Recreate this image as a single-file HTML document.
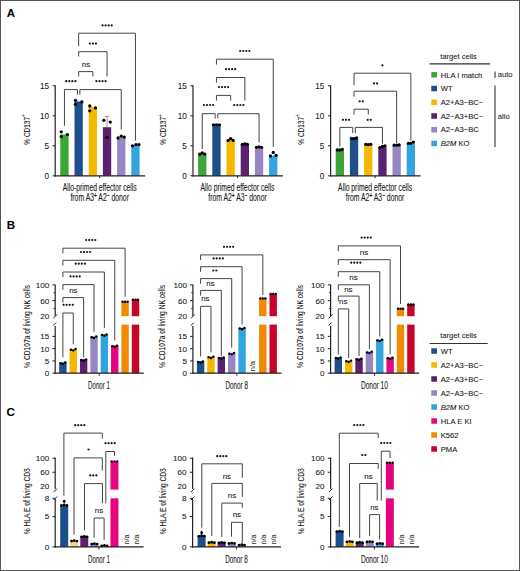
<!DOCTYPE html>
<html><head><meta charset="utf-8"><style>
html,body{margin:0;padding:0;background:#fff;}
body{width:520px;height:571px;overflow:hidden;}
svg{display:block;font-family:"Liberation Sans",sans-serif;}
text{stroke:#1a1a1a;stroke-width:0.08px;}
</style></head><body>
<svg width="520" height="571" viewBox="0 0 520 571">
<rect x="0" y="0" width="520" height="571" fill="#fff"/>
<text x="6.8" y="16.8" font-size="11.5" font-weight="bold" fill="#000">A</text>
<text x="6.8" y="228.9" font-size="11.5" font-weight="bold" fill="#000">B</text>
<text x="6.6" y="416.0" font-size="11.5" font-weight="bold" fill="#000">C</text>
<rect x="60.3" y="134.4" width="8.3" height="41.4" fill="#3ba535"/>
<circle cx="61.25" cy="131.82" r="1.65" fill="#000"/>
<circle cx="67.35" cy="134.58" r="1.65" fill="#000"/>
<circle cx="61.25" cy="136.62" r="1.65" fill="#000"/>
<rect x="74.5" y="101.4" width="8.3" height="74.4" fill="#1d4f8b"/>
<circle cx="75.45" cy="100.32" r="1.65" fill="#000"/>
<circle cx="81.85" cy="101.88" r="1.65" fill="#000"/>
<circle cx="75.45" cy="104.28" r="1.65" fill="#000"/>
<rect x="88.7" y="106.8" width="8.3" height="69" fill="#f6b700"/>
<circle cx="89.75" cy="105.9" r="1.65" fill="#000"/>
<circle cx="95.45" cy="107.88" r="1.65" fill="#000"/>
<circle cx="89.75" cy="110.82" r="1.65" fill="#000"/>
<rect x="102.9" y="127.2" width="8.3" height="48.6" fill="#5b216f"/>
<line x1="107.05" y1="116.4" x2="107.05" y2="127.2" stroke="#777" stroke-width="0.8"/>
<line x1="105.05" y1="116.4" x2="109.05" y2="116.4" stroke="#777" stroke-width="0.8"/>
<circle cx="103.85" cy="120.3" r="1.65" fill="#000"/>
<circle cx="110.25" cy="122.1" r="1.65" fill="#000"/>
<circle cx="107.05" cy="137.4" r="1.65" fill="#000"/>
<rect x="117.1" y="137.4" width="8.3" height="38.4" fill="#9687c4"/>
<circle cx="118.05" cy="138" r="1.65" fill="#000"/>
<circle cx="121.25" cy="136.2" r="1.65" fill="#000"/>
<circle cx="124.25" cy="137.1" r="1.65" fill="#000"/>
<rect x="131.3" y="145.2" width="8.3" height="30.6" fill="#33a5de"/>
<circle cx="132.45" cy="145.8" r="1.65" fill="#000"/>
<circle cx="135.95" cy="144.6" r="1.65" fill="#000"/>
<circle cx="138.95" cy="144.6" r="1.65" fill="#000"/>
<line x1="55.2" y1="85.3" x2="55.2" y2="176.4" stroke="#222" stroke-width="1.2"/>
<line x1="52.6" y1="175.8" x2="55.2" y2="175.8" stroke="#222" stroke-width="1.0"/>
<text x="49" y="178.7" font-size="8.2" text-anchor="end" fill="#1a1a1a" >0</text>
<line x1="52.6" y1="145.8" x2="55.2" y2="145.8" stroke="#222" stroke-width="1.0"/>
<text x="49" y="148.7" font-size="8.2" text-anchor="end" fill="#1a1a1a" >5</text>
<line x1="52.6" y1="115.8" x2="55.2" y2="115.8" stroke="#222" stroke-width="1.0"/>
<text x="49" y="118.7" font-size="8.2" text-anchor="end" fill="#1a1a1a" >10</text>
<line x1="52.6" y1="85.8" x2="55.2" y2="85.8" stroke="#222" stroke-width="1.0"/>
<text x="49" y="88.7" font-size="8.2" text-anchor="end" fill="#1a1a1a" >15</text>
<line x1="54.6" y1="175.8" x2="145.2" y2="175.8" stroke="#222" stroke-width="1.2"/>
<line x1="99.7" y1="175.8" x2="99.7" y2="178.1" stroke="#222" stroke-width="1.0"/>
<text transform="translate(30,129.4) rotate(-90)" font-size="9.4" text-anchor="middle" fill="#111" stroke="#111" stroke-width="0.3" textLength="30.5" lengthAdjust="spacingAndGlyphs">% CD137<tspan font-size="7" dy="-3.6">+</tspan></text>
<text x="99.7" y="190.9" font-size="10" text-anchor="middle" fill="#111" stroke="#111" stroke-width="0.3" textLength="74" lengthAdjust="spacingAndGlyphs">Allo-primed effector cells</text>
<text x="99.7" y="201.3" font-size="10" text-anchor="middle" fill="#111" stroke="#111" stroke-width="0.3" textLength="58.5" lengthAdjust="spacingAndGlyphs">from A3<tspan font-size="7" dy="-3.4" font-weight="bold">+</tspan><tspan dy="3.4"> A2</tspan><tspan font-size="7" dy="-3.4" font-weight="bold">−</tspan><tspan dy="3.4"> donor</tspan></text>
<rect x="198.1" y="154.8" width="8.3" height="21" fill="#3ba535"/>
<circle cx="199.75" cy="154.2" r="1.65" fill="#000"/>
<circle cx="202.25" cy="153" r="1.65" fill="#000"/>
<circle cx="204.75" cy="154.2" r="1.65" fill="#000"/>
<rect x="212.3" y="126" width="8.3" height="49.8" fill="#1d4f8b"/>
<circle cx="213.45" cy="124.8" r="1.65" fill="#000"/>
<circle cx="216.45" cy="124.8" r="1.65" fill="#000"/>
<circle cx="219.45" cy="124.8" r="1.65" fill="#000"/>
<rect x="226.5" y="140.4" width="8.3" height="35.4" fill="#f6b700"/>
<circle cx="228.15" cy="140.4" r="1.65" fill="#000"/>
<circle cx="230.65" cy="138.6" r="1.65" fill="#000"/>
<circle cx="233.15" cy="140.4" r="1.65" fill="#000"/>
<rect x="240.7" y="144.6" width="8.3" height="31.2" fill="#5b216f"/>
<circle cx="242.35" cy="144.3" r="1.65" fill="#000"/>
<circle cx="244.85" cy="144" r="1.65" fill="#000"/>
<circle cx="247.35" cy="144.3" r="1.65" fill="#000"/>
<rect x="254.9" y="148.2" width="8.3" height="27.6" fill="#9687c4"/>
<circle cx="256.55" cy="147.3" r="1.65" fill="#000"/>
<circle cx="259.05" cy="147" r="1.65" fill="#000"/>
<circle cx="261.55" cy="147.3" r="1.65" fill="#000"/>
<rect x="269.1" y="155.7" width="8.3" height="20.1" fill="#33a5de"/>
<circle cx="270.45" cy="156" r="1.65" fill="#000"/>
<circle cx="273.25" cy="152.4" r="1.65" fill="#000"/>
<circle cx="276.05" cy="155.4" r="1.65" fill="#000"/>
<line x1="193" y1="85.3" x2="193" y2="176.4" stroke="#222" stroke-width="1.2"/>
<line x1="190.4" y1="175.8" x2="193" y2="175.8" stroke="#222" stroke-width="1.0"/>
<text x="186.8" y="178.7" font-size="8.2" text-anchor="end" fill="#1a1a1a" >0</text>
<line x1="190.4" y1="145.8" x2="193" y2="145.8" stroke="#222" stroke-width="1.0"/>
<text x="186.8" y="148.7" font-size="8.2" text-anchor="end" fill="#1a1a1a" >5</text>
<line x1="190.4" y1="115.8" x2="193" y2="115.8" stroke="#222" stroke-width="1.0"/>
<text x="186.8" y="118.7" font-size="8.2" text-anchor="end" fill="#1a1a1a" >10</text>
<line x1="190.4" y1="85.8" x2="193" y2="85.8" stroke="#222" stroke-width="1.0"/>
<text x="186.8" y="88.7" font-size="8.2" text-anchor="end" fill="#1a1a1a" >15</text>
<line x1="192.4" y1="175.8" x2="283" y2="175.8" stroke="#222" stroke-width="1.2"/>
<line x1="237.5" y1="175.8" x2="237.5" y2="178.1" stroke="#222" stroke-width="1.0"/>
<text transform="translate(166.4,129.4) rotate(-90)" font-size="9.4" text-anchor="middle" fill="#111" stroke="#111" stroke-width="0.3" textLength="30.5" lengthAdjust="spacingAndGlyphs">% CD137<tspan font-size="7" dy="-3.6">+</tspan></text>
<text x="237.5" y="190.9" font-size="10" text-anchor="middle" fill="#111" stroke="#111" stroke-width="0.3" textLength="74" lengthAdjust="spacingAndGlyphs">Allo primed effector cells</text>
<text x="237.5" y="201.3" font-size="10" text-anchor="middle" fill="#111" stroke="#111" stroke-width="0.3" textLength="58.5" lengthAdjust="spacingAndGlyphs">from A2<tspan font-size="7" dy="-3.4" font-weight="bold">+</tspan><tspan dy="3.4"> A3</tspan><tspan font-size="7" dy="-3.4" font-weight="bold">−</tspan><tspan dy="3.4"> donor</tspan></text>
<rect x="335.7" y="150.3" width="8.3" height="25.5" fill="#3ba535"/>
<circle cx="337.35" cy="150" r="1.65" fill="#000"/>
<circle cx="342.35" cy="149.4" r="1.65" fill="#000"/>
<circle cx="339.85" cy="150" r="1.65" fill="#000"/>
<rect x="349.9" y="138.9" width="8.3" height="36.9" fill="#1d4f8b"/>
<circle cx="351.55" cy="138.3" r="1.65" fill="#000"/>
<circle cx="356.55" cy="138" r="1.65" fill="#000"/>
<circle cx="354.05" cy="138.6" r="1.65" fill="#000"/>
<rect x="364.1" y="144.9" width="8.3" height="30.9" fill="#f6b700"/>
<circle cx="365.75" cy="144.3" r="1.65" fill="#000"/>
<circle cx="370.75" cy="144.3" r="1.65" fill="#000"/>
<circle cx="368.25" cy="144.6" r="1.65" fill="#000"/>
<rect x="378.3" y="147" width="8.3" height="28.8" fill="#5b216f"/>
<circle cx="379.95" cy="147.6" r="1.65" fill="#000"/>
<circle cx="384.95" cy="145.8" r="1.65" fill="#000"/>
<circle cx="382.45" cy="146.4" r="1.65" fill="#000"/>
<rect x="392.5" y="145.5" width="8.3" height="30.3" fill="#9687c4"/>
<circle cx="394.15" cy="145.2" r="1.65" fill="#000"/>
<circle cx="399.15" cy="144.9" r="1.65" fill="#000"/>
<circle cx="396.65" cy="145.2" r="1.65" fill="#000"/>
<rect x="406.7" y="143.7" width="8.3" height="32.1" fill="#33a5de"/>
<circle cx="408.35" cy="143.4" r="1.65" fill="#000"/>
<circle cx="413.35" cy="142.2" r="1.65" fill="#000"/>
<circle cx="410.85" cy="143.4" r="1.65" fill="#000"/>
<line x1="330.6" y1="85.3" x2="330.6" y2="176.4" stroke="#222" stroke-width="1.2"/>
<line x1="328" y1="175.8" x2="330.6" y2="175.8" stroke="#222" stroke-width="1.0"/>
<text x="324.4" y="178.7" font-size="8.2" text-anchor="end" fill="#1a1a1a" >0</text>
<line x1="328" y1="145.8" x2="330.6" y2="145.8" stroke="#222" stroke-width="1.0"/>
<text x="324.4" y="148.7" font-size="8.2" text-anchor="end" fill="#1a1a1a" >5</text>
<line x1="328" y1="115.8" x2="330.6" y2="115.8" stroke="#222" stroke-width="1.0"/>
<text x="324.4" y="118.7" font-size="8.2" text-anchor="end" fill="#1a1a1a" >10</text>
<line x1="328" y1="85.8" x2="330.6" y2="85.8" stroke="#222" stroke-width="1.0"/>
<text x="324.4" y="88.7" font-size="8.2" text-anchor="end" fill="#1a1a1a" >15</text>
<line x1="330" y1="175.8" x2="420.6" y2="175.8" stroke="#222" stroke-width="1.2"/>
<line x1="375.1" y1="175.8" x2="375.1" y2="178.1" stroke="#222" stroke-width="1.0"/>
<text transform="translate(303.8,129.4) rotate(-90)" font-size="9.4" text-anchor="middle" fill="#111" stroke="#111" stroke-width="0.3" textLength="30.5" lengthAdjust="spacingAndGlyphs">% CD137<tspan font-size="7" dy="-3.6">+</tspan></text>
<text x="375.1" y="190.9" font-size="10" text-anchor="middle" fill="#111" stroke="#111" stroke-width="0.3" textLength="74" lengthAdjust="spacingAndGlyphs">Allo primed effector cells</text>
<text x="375.1" y="201.3" font-size="10" text-anchor="middle" fill="#111" stroke="#111" stroke-width="0.3" textLength="58.5" lengthAdjust="spacingAndGlyphs">from A2<tspan font-size="7" dy="-3.4" font-weight="bold">+</tspan><tspan dy="3.4"> A3</tspan><tspan font-size="7" dy="-3.4" font-weight="bold">−</tspan><tspan dy="3.4"> donor</tspan></text>
<polyline points="64.45,125.8 64.45,89.6 77.45,89.6 77.45,94.7" fill="none" stroke="#454545" stroke-width="1.0"/>
<polyline points="79.85,94.7 79.85,89.6 121.25,89.6 121.25,129.5" fill="none" stroke="#454545" stroke-width="1.0"/>
<circle cx="66.22" cy="81.2" r="1.1" fill="#151515"/>
<circle cx="69.27" cy="81.2" r="1.1" fill="#151515"/>
<circle cx="72.32" cy="81.2" r="1.1" fill="#151515"/>
<circle cx="75.38" cy="81.2" r="1.1" fill="#151515"/>
<circle cx="96.42" cy="81.2" r="1.1" fill="#151515"/>
<circle cx="99.47" cy="81.2" r="1.1" fill="#151515"/>
<circle cx="102.52" cy="81.2" r="1.1" fill="#151515"/>
<circle cx="105.57" cy="81.2" r="1.1" fill="#151515"/>
<polyline points="78.65,76.4 78.65,71.6 92.85,71.6 92.85,76.4" fill="none" stroke="#454545" stroke-width="1.0"/>
<text x="86" y="66.68" font-size="8" text-anchor="middle" fill="#222" stroke="#222" stroke-width="0.25">ns</text>
<polyline points="78.65,56.5 78.65,51.7 107.05,51.7 107.05,76.4" fill="none" stroke="#454545" stroke-width="1.0"/>
<circle cx="89.85" cy="43.6" r="1.1" fill="#151515"/>
<circle cx="92.9" cy="43.6" r="1.1" fill="#151515"/>
<circle cx="95.95" cy="43.6" r="1.1" fill="#151515"/>
<polyline points="78.65,46.2 78.65,33.2 135.45,33.2 135.45,140.5" fill="none" stroke="#454545" stroke-width="1.0"/>
<circle cx="102.52" cy="25.4" r="1.1" fill="#151515"/>
<circle cx="105.57" cy="25.4" r="1.1" fill="#151515"/>
<circle cx="108.62" cy="25.4" r="1.1" fill="#151515"/>
<circle cx="111.67" cy="25.4" r="1.1" fill="#151515"/>
<polyline points="202.25,149.2 202.25,113.7 215.15,113.7 215.15,118.5" fill="none" stroke="#454545" stroke-width="1.0"/>
<polyline points="217.75,118.5 217.75,113.7 259.05,113.7 259.05,142.5" fill="none" stroke="#454545" stroke-width="1.0"/>
<circle cx="203.93" cy="105" r="1.1" fill="#151515"/>
<circle cx="206.98" cy="105" r="1.1" fill="#151515"/>
<circle cx="210.03" cy="105" r="1.1" fill="#151515"/>
<circle cx="213.08" cy="105" r="1.1" fill="#151515"/>
<circle cx="234.23" cy="105" r="1.1" fill="#151515"/>
<circle cx="237.28" cy="105" r="1.1" fill="#151515"/>
<circle cx="240.33" cy="105" r="1.1" fill="#151515"/>
<circle cx="243.38" cy="105" r="1.1" fill="#151515"/>
<polyline points="216.45,100.6 216.45,95.4 230.65,95.4 230.65,100.6" fill="none" stroke="#454545" stroke-width="1.0"/>
<circle cx="218.93" cy="87.1" r="1.1" fill="#151515"/>
<circle cx="221.98" cy="87.1" r="1.1" fill="#151515"/>
<circle cx="225.03" cy="87.1" r="1.1" fill="#151515"/>
<circle cx="228.08" cy="87.1" r="1.1" fill="#151515"/>
<polyline points="216.45,82.7 216.45,77.5 244.85,77.5 244.85,100.6" fill="none" stroke="#454545" stroke-width="1.0"/>
<circle cx="226.03" cy="69.2" r="1.1" fill="#151515"/>
<circle cx="229.08" cy="69.2" r="1.1" fill="#151515"/>
<circle cx="232.12" cy="69.2" r="1.1" fill="#151515"/>
<circle cx="235.18" cy="69.2" r="1.1" fill="#151515"/>
<polyline points="216.45,64.6 216.45,59.2 273.25,59.2 273.25,146.9" fill="none" stroke="#454545" stroke-width="1.0"/>
<circle cx="240.23" cy="51" r="1.1" fill="#151515"/>
<circle cx="243.28" cy="51" r="1.1" fill="#151515"/>
<circle cx="246.33" cy="51" r="1.1" fill="#151515"/>
<circle cx="249.38" cy="51" r="1.1" fill="#151515"/>
<polyline points="339.85,146.5 339.85,127.4 352.75,127.4 352.75,133.1" fill="none" stroke="#454545" stroke-width="1.0"/>
<polyline points="355.35,133.1 355.35,127.4 382.45,127.4 382.45,143.7" fill="none" stroke="#454545" stroke-width="1.0"/>
<circle cx="342.95" cy="119.8" r="1.1" fill="#151515"/>
<circle cx="346" cy="119.8" r="1.1" fill="#151515"/>
<circle cx="349.05" cy="119.8" r="1.1" fill="#151515"/>
<circle cx="367.68" cy="119.8" r="1.1" fill="#151515"/>
<circle cx="370.73" cy="119.8" r="1.1" fill="#151515"/>
<polyline points="354.05,114.5 354.05,109.2 368.25,109.2 368.25,114.5" fill="none" stroke="#454545" stroke-width="1.0"/>
<circle cx="359.68" cy="101.3" r="1.1" fill="#151515"/>
<circle cx="362.73" cy="101.3" r="1.1" fill="#151515"/>
<polyline points="354.05,96.7 354.05,91.2 396.65,91.2 396.65,143" fill="none" stroke="#454545" stroke-width="1.0"/>
<circle cx="374.08" cy="83.4" r="1.1" fill="#151515"/>
<circle cx="377.13" cy="83.4" r="1.1" fill="#151515"/>
<polyline points="354.05,85.5 354.05,73.2 410.85,73.2 410.85,140.5" fill="none" stroke="#454545" stroke-width="1.0"/>
<circle cx="382.4" cy="65.4" r="1.1" fill="#151515"/>
<text x="458.5" y="59.2" font-size="7.6" text-anchor="middle" fill="#222" >target cells</text>
<line x1="429.6" y1="63.8" x2="490.2" y2="63.8" stroke="#333" stroke-width="1.2"/>
<rect x="431.3" y="72.05" width="5.7" height="5.5" fill="#3ba535"/>
<text x="440.8" y="77.5" font-size="7.6" fill="#1a1a1a" style="stroke-width:0.1px">HLA I match</text>
<rect x="431.3" y="85.78" width="5.7" height="5.5" fill="#1d4f8b"/>
<text x="440.8" y="91.23" font-size="7.6" fill="#1a1a1a" style="stroke-width:0.1px">WT</text>
<rect x="431.3" y="99.51" width="5.7" height="5.5" fill="#f6b700"/>
<text x="440.8" y="104.96" font-size="7.6" fill="#1a1a1a" style="stroke-width:0.1px">A2+A3−BC−</text>
<rect x="431.3" y="113.24" width="5.7" height="5.5" fill="#5b216f"/>
<text x="440.8" y="118.69" font-size="7.6" fill="#1a1a1a" style="stroke-width:0.1px">A2−A3+BC−</text>
<rect x="431.3" y="126.97" width="5.7" height="5.5" fill="#9687c4"/>
<text x="440.8" y="132.42" font-size="7.6" fill="#1a1a1a" style="stroke-width:0.1px">A2−A3−BC</text>
<rect x="431.3" y="140.7" width="5.7" height="5.5" fill="#33a5de"/>
<text x="440.8" y="146.15" font-size="7.6" fill="#1a1a1a" style="stroke-width:0.1px"><tspan font-style="italic">B2M</tspan> KO</text>
<line x1="495" y1="71.6" x2="495" y2="77.8" stroke="#333" stroke-width="1.1"/>
<text x="497.8" y="77.4" font-size="7.6" fill="#222">auto</text>
<line x1="495" y1="85.4" x2="495" y2="147" stroke="#333" stroke-width="1.1"/>
<text x="497.8" y="118.9" font-size="7.6" fill="#222">allo</text>
<rect x="59.2" y="362.41" width="7.4" height="10.79" fill="#1d4f8b"/>
<circle cx="60.6" cy="363.21" r="1.25" fill="#000"/>
<circle cx="65.2" cy="362.61" r="1.25" fill="#000"/>
<circle cx="62.9" cy="363.91" r="1.2" fill="#000"/>
<rect x="69.57" y="348.92" width="7.4" height="24.28" fill="#f6b700"/>
<circle cx="70.97" cy="349.72" r="1.25" fill="#000"/>
<circle cx="75.57" cy="349.12" r="1.25" fill="#000"/>
<circle cx="73.27" cy="350.42" r="1.2" fill="#000"/>
<rect x="79.94" y="359.22" width="7.4" height="13.98" fill="#5b216f"/>
<circle cx="81.34" cy="360.02" r="1.25" fill="#000"/>
<circle cx="85.94" cy="359.42" r="1.25" fill="#000"/>
<circle cx="83.64" cy="360.72" r="1.2" fill="#000"/>
<rect x="90.31" y="336.4" width="7.4" height="36.8" fill="#9687c4"/>
<circle cx="91.71" cy="337.2" r="1.25" fill="#000"/>
<circle cx="96.31" cy="336.6" r="1.25" fill="#000"/>
<circle cx="94.01" cy="337.9" r="1.2" fill="#000"/>
<rect x="100.68" y="334.2" width="7.4" height="39" fill="#33a5de"/>
<circle cx="102.08" cy="335" r="1.25" fill="#000"/>
<circle cx="106.68" cy="334.4" r="1.25" fill="#000"/>
<circle cx="104.38" cy="335.7" r="1.2" fill="#000"/>
<rect x="111.05" y="345.48" width="7.4" height="27.72" fill="#e5067f"/>
<circle cx="112.45" cy="346.28" r="1.25" fill="#000"/>
<circle cx="117.05" cy="345.68" r="1.25" fill="#000"/>
<circle cx="114.75" cy="346.98" r="1.2" fill="#000"/>
<rect x="121.42" y="301.43" width="7.4" height="14.77" fill="#f18a00"/>
<rect x="121.42" y="324.6" width="7.4" height="48.6" fill="#f18a00"/>
<circle cx="122.62" cy="301.73" r="1.2" fill="#000"/>
<circle cx="125.12" cy="301.73" r="1.2" fill="#000"/>
<circle cx="127.62" cy="301.73" r="1.2" fill="#000"/>
<rect x="131.79" y="299.46" width="7.4" height="16.74" fill="#c8032b"/>
<rect x="131.79" y="324.6" width="7.4" height="48.6" fill="#c8032b"/>
<circle cx="132.99" cy="299.76" r="1.2" fill="#000"/>
<circle cx="135.49" cy="299.76" r="1.2" fill="#000"/>
<circle cx="137.99" cy="299.76" r="1.2" fill="#000"/>
<line x1="55.2" y1="373.8" x2="55.2" y2="325.9" stroke="#222" stroke-width="1.2"/>
<line x1="53.2" y1="325.6" x2="56.1" y2="322.6" stroke="#222" stroke-width="1.0"/>
<line x1="52.4" y1="373.2" x2="55.2" y2="373.2" stroke="#222" stroke-width="1.0"/>
<text x="49.2" y="376.1" font-size="8.1" text-anchor="end" fill="#1a1a1a" >0</text>
<line x1="52.4" y1="360.94" x2="55.2" y2="360.94" stroke="#222" stroke-width="1.0"/>
<text x="49.2" y="363.83" font-size="8.1" text-anchor="end" fill="#1a1a1a" >5</text>
<line x1="52.4" y1="348.67" x2="55.2" y2="348.67" stroke="#222" stroke-width="1.0"/>
<text x="49.2" y="351.57" font-size="8.1" text-anchor="end" fill="#1a1a1a" >10</text>
<line x1="52.4" y1="336.4" x2="55.2" y2="336.4" stroke="#222" stroke-width="1.0"/>
<text x="49.2" y="339.3" font-size="8.1" text-anchor="end" fill="#1a1a1a" >15</text>
<line x1="55.2" y1="284.4" x2="55.2" y2="316" stroke="#222" stroke-width="1.2"/>
<line x1="53.3" y1="318.3" x2="57.1" y2="314.4" stroke="#222" stroke-width="1.0"/>
<text x="49.2" y="319.3" font-size="8.1" text-anchor="end" fill="#1a1a1a" >20</text>
<line x1="52.4" y1="300.64" x2="55.2" y2="300.64" stroke="#222" stroke-width="1.0"/>
<text x="49.2" y="303.54" font-size="8.1" text-anchor="end" fill="#1a1a1a" >60</text>
<line x1="52.4" y1="284.88" x2="55.2" y2="284.88" stroke="#222" stroke-width="1.0"/>
<text x="49.2" y="287.78" font-size="8.1" text-anchor="end" fill="#1a1a1a" >100</text>
<line x1="53.6" y1="308.52" x2="55.2" y2="308.52" stroke="#222" stroke-width="1.0"/>
<line x1="53.6" y1="292.76" x2="55.2" y2="292.76" stroke="#222" stroke-width="1.0"/>
<line x1="54.6" y1="373.2" x2="143.8" y2="373.2" stroke="#222" stroke-width="1.2"/>
<line x1="99.2" y1="373.2" x2="99.2" y2="375.8" stroke="#222" stroke-width="1.0"/>
<text transform="translate(29.9,326.4) rotate(-90)" font-size="9.6" text-anchor="middle" fill="#111" stroke="#111" stroke-width="0.3" textLength="83" lengthAdjust="spacingAndGlyphs">% CD107a of living NK cells</text>
<text x="99" y="389.1" font-size="10" text-anchor="middle" fill="#111" stroke="#111" stroke-width="0.35" textLength="22" lengthAdjust="spacingAndGlyphs">Donor 1</text>
<rect x="196.9" y="361.18" width="7.4" height="12.02" fill="#1d4f8b"/>
<circle cx="198.3" cy="361.98" r="1.25" fill="#000"/>
<circle cx="202.9" cy="361.38" r="1.25" fill="#000"/>
<circle cx="200.6" cy="362.68" r="1.2" fill="#000"/>
<rect x="207.27" y="356.52" width="7.4" height="16.68" fill="#f6b700"/>
<circle cx="208.67" cy="357.32" r="1.25" fill="#000"/>
<circle cx="213.27" cy="356.72" r="1.25" fill="#000"/>
<circle cx="210.97" cy="358.02" r="1.2" fill="#000"/>
<rect x="217.64" y="357.26" width="7.4" height="15.94" fill="#5b216f"/>
<circle cx="219.04" cy="358.06" r="1.25" fill="#000"/>
<circle cx="223.64" cy="357.46" r="1.25" fill="#000"/>
<circle cx="221.34" cy="358.76" r="1.2" fill="#000"/>
<rect x="228.01" y="352.84" width="7.4" height="20.36" fill="#9687c4"/>
<circle cx="229.41" cy="353.64" r="1.25" fill="#000"/>
<circle cx="234.01" cy="353.04" r="1.25" fill="#000"/>
<circle cx="231.71" cy="354.34" r="1.2" fill="#000"/>
<rect x="238.38" y="327.82" width="7.4" height="45.38" fill="#33a5de"/>
<circle cx="239.78" cy="328.62" r="1.25" fill="#000"/>
<circle cx="244.38" cy="328.02" r="1.25" fill="#000"/>
<circle cx="242.08" cy="329.32" r="1.2" fill="#000"/>
<text transform="translate(254.85,371.2) rotate(-90)" font-size="7.4" fill="#444">n/a</text>
<rect x="259.12" y="298.08" width="7.4" height="18.12" fill="#f18a00"/>
<rect x="259.12" y="324.6" width="7.4" height="48.6" fill="#f18a00"/>
<circle cx="260.32" cy="298.38" r="1.2" fill="#000"/>
<circle cx="262.82" cy="298.38" r="1.2" fill="#000"/>
<circle cx="265.32" cy="298.38" r="1.2" fill="#000"/>
<rect x="269.49" y="293.71" width="7.4" height="22.49" fill="#c8032b"/>
<rect x="269.49" y="324.6" width="7.4" height="48.6" fill="#c8032b"/>
<circle cx="270.69" cy="294.01" r="1.2" fill="#000"/>
<circle cx="273.19" cy="294.01" r="1.2" fill="#000"/>
<circle cx="275.69" cy="294.01" r="1.2" fill="#000"/>
<line x1="192.9" y1="373.8" x2="192.9" y2="325.9" stroke="#222" stroke-width="1.2"/>
<line x1="190.9" y1="325.6" x2="193.8" y2="322.6" stroke="#222" stroke-width="1.0"/>
<line x1="190.1" y1="373.2" x2="192.9" y2="373.2" stroke="#222" stroke-width="1.0"/>
<text x="186.9" y="376.1" font-size="8.1" text-anchor="end" fill="#1a1a1a" >0</text>
<line x1="190.1" y1="360.94" x2="192.9" y2="360.94" stroke="#222" stroke-width="1.0"/>
<text x="186.9" y="363.83" font-size="8.1" text-anchor="end" fill="#1a1a1a" >5</text>
<line x1="190.1" y1="348.67" x2="192.9" y2="348.67" stroke="#222" stroke-width="1.0"/>
<text x="186.9" y="351.57" font-size="8.1" text-anchor="end" fill="#1a1a1a" >10</text>
<line x1="190.1" y1="336.4" x2="192.9" y2="336.4" stroke="#222" stroke-width="1.0"/>
<text x="186.9" y="339.3" font-size="8.1" text-anchor="end" fill="#1a1a1a" >15</text>
<line x1="192.9" y1="284.4" x2="192.9" y2="316" stroke="#222" stroke-width="1.2"/>
<line x1="191" y1="318.3" x2="194.8" y2="314.4" stroke="#222" stroke-width="1.0"/>
<text x="186.9" y="319.3" font-size="8.1" text-anchor="end" fill="#1a1a1a" >20</text>
<line x1="190.1" y1="300.64" x2="192.9" y2="300.64" stroke="#222" stroke-width="1.0"/>
<text x="186.9" y="303.54" font-size="8.1" text-anchor="end" fill="#1a1a1a" >60</text>
<line x1="190.1" y1="284.88" x2="192.9" y2="284.88" stroke="#222" stroke-width="1.0"/>
<text x="186.9" y="287.78" font-size="8.1" text-anchor="end" fill="#1a1a1a" >100</text>
<line x1="191.3" y1="308.52" x2="192.9" y2="308.52" stroke="#222" stroke-width="1.0"/>
<line x1="191.3" y1="292.76" x2="192.9" y2="292.76" stroke="#222" stroke-width="1.0"/>
<line x1="192.3" y1="373.2" x2="281.5" y2="373.2" stroke="#222" stroke-width="1.2"/>
<line x1="236.9" y1="373.2" x2="236.9" y2="375.8" stroke="#222" stroke-width="1.0"/>
<text transform="translate(165.2,326.4) rotate(-90)" font-size="9.6" text-anchor="middle" fill="#111" stroke="#111" stroke-width="0.3" textLength="83" lengthAdjust="spacingAndGlyphs">% CD107a of living NK cells</text>
<text x="236.7" y="389.1" font-size="10" text-anchor="middle" fill="#111" stroke="#111" stroke-width="0.35" textLength="22.5" lengthAdjust="spacingAndGlyphs">Donor 8</text>
<rect x="334.6" y="357.26" width="7.4" height="15.94" fill="#1d4f8b"/>
<circle cx="336" cy="358.06" r="1.25" fill="#000"/>
<circle cx="340.6" cy="357.46" r="1.25" fill="#000"/>
<circle cx="338.3" cy="358.76" r="1.2" fill="#000"/>
<rect x="344.97" y="360.44" width="7.4" height="12.76" fill="#f6b700"/>
<circle cx="346.37" cy="361.24" r="1.25" fill="#000"/>
<circle cx="350.97" cy="360.64" r="1.25" fill="#000"/>
<circle cx="348.67" cy="361.94" r="1.2" fill="#000"/>
<rect x="355.34" y="358.48" width="7.4" height="14.72" fill="#5b216f"/>
<circle cx="356.74" cy="359.28" r="1.25" fill="#000"/>
<circle cx="361.34" cy="358.68" r="1.25" fill="#000"/>
<circle cx="359.04" cy="359.98" r="1.2" fill="#000"/>
<rect x="365.71" y="351.61" width="7.4" height="21.59" fill="#9687c4"/>
<circle cx="367.11" cy="352.41" r="1.25" fill="#000"/>
<circle cx="371.71" cy="351.81" r="1.25" fill="#000"/>
<circle cx="369.41" cy="353.11" r="1.2" fill="#000"/>
<rect x="376.08" y="339.59" width="7.4" height="33.61" fill="#33a5de"/>
<circle cx="377.48" cy="340.39" r="1.25" fill="#000"/>
<circle cx="382.08" cy="339.79" r="1.25" fill="#000"/>
<circle cx="379.78" cy="341.09" r="1.2" fill="#000"/>
<rect x="386.45" y="357.5" width="7.4" height="15.7" fill="#e5067f"/>
<circle cx="387.85" cy="358.3" r="1.25" fill="#000"/>
<circle cx="392.45" cy="357.7" r="1.25" fill="#000"/>
<circle cx="390.15" cy="359" r="1.2" fill="#000"/>
<rect x="396.82" y="308.44" width="7.4" height="7.76" fill="#f18a00"/>
<rect x="396.82" y="324.6" width="7.4" height="48.6" fill="#f18a00"/>
<circle cx="398.02" cy="308.74" r="1.2" fill="#000"/>
<circle cx="400.52" cy="308.74" r="1.2" fill="#000"/>
<circle cx="403.02" cy="308.74" r="1.2" fill="#000"/>
<rect x="407.19" y="304.19" width="7.4" height="12.01" fill="#c8032b"/>
<rect x="407.19" y="324.6" width="7.4" height="48.6" fill="#c8032b"/>
<circle cx="408.39" cy="304.49" r="1.2" fill="#000"/>
<circle cx="410.89" cy="304.49" r="1.2" fill="#000"/>
<circle cx="413.39" cy="304.49" r="1.2" fill="#000"/>
<line x1="330.6" y1="373.8" x2="330.6" y2="325.9" stroke="#222" stroke-width="1.2"/>
<line x1="328.6" y1="325.6" x2="331.5" y2="322.6" stroke="#222" stroke-width="1.0"/>
<line x1="327.8" y1="373.2" x2="330.6" y2="373.2" stroke="#222" stroke-width="1.0"/>
<text x="324.6" y="376.1" font-size="8.1" text-anchor="end" fill="#1a1a1a" >0</text>
<line x1="327.8" y1="360.94" x2="330.6" y2="360.94" stroke="#222" stroke-width="1.0"/>
<text x="324.6" y="363.83" font-size="8.1" text-anchor="end" fill="#1a1a1a" >5</text>
<line x1="327.8" y1="348.67" x2="330.6" y2="348.67" stroke="#222" stroke-width="1.0"/>
<text x="324.6" y="351.57" font-size="8.1" text-anchor="end" fill="#1a1a1a" >10</text>
<line x1="327.8" y1="336.4" x2="330.6" y2="336.4" stroke="#222" stroke-width="1.0"/>
<text x="324.6" y="339.3" font-size="8.1" text-anchor="end" fill="#1a1a1a" >15</text>
<line x1="330.6" y1="284.4" x2="330.6" y2="316" stroke="#222" stroke-width="1.2"/>
<line x1="328.7" y1="318.3" x2="332.5" y2="314.4" stroke="#222" stroke-width="1.0"/>
<text x="324.6" y="319.3" font-size="8.1" text-anchor="end" fill="#1a1a1a" >20</text>
<line x1="327.8" y1="300.64" x2="330.6" y2="300.64" stroke="#222" stroke-width="1.0"/>
<text x="324.6" y="303.54" font-size="8.1" text-anchor="end" fill="#1a1a1a" >60</text>
<line x1="327.8" y1="284.88" x2="330.6" y2="284.88" stroke="#222" stroke-width="1.0"/>
<text x="324.6" y="287.78" font-size="8.1" text-anchor="end" fill="#1a1a1a" >100</text>
<line x1="329" y1="308.52" x2="330.6" y2="308.52" stroke="#222" stroke-width="1.0"/>
<line x1="329" y1="292.76" x2="330.6" y2="292.76" stroke="#222" stroke-width="1.0"/>
<line x1="330" y1="373.2" x2="419.2" y2="373.2" stroke="#222" stroke-width="1.2"/>
<line x1="374.6" y1="373.2" x2="374.6" y2="375.8" stroke="#222" stroke-width="1.0"/>
<text transform="translate(303.4,326.4) rotate(-90)" font-size="9.6" text-anchor="middle" fill="#111" stroke="#111" stroke-width="0.3" textLength="83" lengthAdjust="spacingAndGlyphs">% CD107a of living NK cells</text>
<text x="374.4" y="389.1" font-size="10" text-anchor="middle" fill="#111" stroke="#111" stroke-width="0.35" textLength="27" lengthAdjust="spacingAndGlyphs">Donor 10</text>
<polyline points="62.9,253.4 62.9,248.2 125.12,248.2 125.12,296.8" fill="none" stroke="#454545" stroke-width="1.0"/>
<circle cx="86.12" cy="240" r="1.1" fill="#151515"/>
<circle cx="89.17" cy="240" r="1.1" fill="#151515"/>
<circle cx="92.22" cy="240" r="1.1" fill="#151515"/>
<circle cx="95.28" cy="240" r="1.1" fill="#151515"/>
<polyline points="62.9,265.5 62.9,260.3 114.75,260.3 114.75,340.6" fill="none" stroke="#454545" stroke-width="1.0"/>
<circle cx="80.92" cy="252" r="1.1" fill="#151515"/>
<circle cx="83.97" cy="252" r="1.1" fill="#151515"/>
<circle cx="87.02" cy="252" r="1.1" fill="#151515"/>
<circle cx="90.07" cy="252" r="1.1" fill="#151515"/>
<polyline points="62.9,277.2 62.9,272 104.38,272 104.38,327.8" fill="none" stroke="#454545" stroke-width="1.0"/>
<circle cx="75.72" cy="263.7" r="1.1" fill="#151515"/>
<circle cx="78.77" cy="263.7" r="1.1" fill="#151515"/>
<circle cx="81.82" cy="263.7" r="1.1" fill="#151515"/>
<circle cx="84.88" cy="263.7" r="1.1" fill="#151515"/>
<polyline points="62.9,289.8 62.9,284.6 94.01,284.6 94.01,331.8" fill="none" stroke="#454545" stroke-width="1.0"/>
<circle cx="70.52" cy="276.4" r="1.1" fill="#151515"/>
<circle cx="73.57" cy="276.4" r="1.1" fill="#151515"/>
<circle cx="76.62" cy="276.4" r="1.1" fill="#151515"/>
<circle cx="79.67" cy="276.4" r="1.1" fill="#151515"/>
<polyline points="62.9,302.8 62.9,297.6 83.64,297.6 83.64,357.4" fill="none" stroke="#454545" stroke-width="1.0"/>
<text x="73.4" y="292.68" font-size="8" text-anchor="middle" fill="#222" stroke="#222" stroke-width="0.25">ns</text>
<polyline points="62.9,357.4 62.9,313 73.27,313 73.27,344.3" fill="none" stroke="#454545" stroke-width="1.0"/>
<circle cx="63.62" cy="304.8" r="1.1" fill="#151515"/>
<circle cx="66.67" cy="304.8" r="1.1" fill="#151515"/>
<circle cx="69.72" cy="304.8" r="1.1" fill="#151515"/>
<circle cx="72.78" cy="304.8" r="1.1" fill="#151515"/>
<polyline points="200.6,260.1 200.6,254.9 262.82,254.9 262.82,294.9" fill="none" stroke="#454545" stroke-width="1.0"/>
<circle cx="224.03" cy="246.8" r="1.1" fill="#151515"/>
<circle cx="227.08" cy="246.8" r="1.1" fill="#151515"/>
<circle cx="230.12" cy="246.8" r="1.1" fill="#151515"/>
<circle cx="233.18" cy="246.8" r="1.1" fill="#151515"/>
<polyline points="200.6,271.9 200.6,266.7 242.08,266.7 242.08,324.5" fill="none" stroke="#454545" stroke-width="1.0"/>
<circle cx="213.62" cy="258.4" r="1.1" fill="#151515"/>
<circle cx="216.68" cy="258.4" r="1.1" fill="#151515"/>
<circle cx="219.72" cy="258.4" r="1.1" fill="#151515"/>
<circle cx="222.78" cy="258.4" r="1.1" fill="#151515"/>
<polyline points="200.6,283.8 200.6,278.6 231.71,278.6 231.71,347.7" fill="none" stroke="#454545" stroke-width="1.0"/>
<circle cx="213.28" cy="270.5" r="1.1" fill="#151515"/>
<circle cx="216.33" cy="270.5" r="1.1" fill="#151515"/>
<polyline points="200.6,295.6 200.6,290.4 221.34,290.4 221.34,356.4" fill="none" stroke="#454545" stroke-width="1.0"/>
<text x="210.6" y="285.58" font-size="8" text-anchor="middle" fill="#222" stroke="#222" stroke-width="0.25">ns</text>
<polyline points="200.6,356.4 200.6,306.3 210.97,306.3 210.97,352.4" fill="none" stroke="#454545" stroke-width="1.0"/>
<text x="205.4" y="301.48" font-size="8" text-anchor="middle" fill="#222" stroke="#222" stroke-width="0.25">ns</text>
<polyline points="338.3,251.1 338.3,245.9 400.52,245.9 400.52,304" fill="none" stroke="#454545" stroke-width="1.0"/>
<circle cx="361.62" cy="237.6" r="1.1" fill="#151515"/>
<circle cx="364.68" cy="237.6" r="1.1" fill="#151515"/>
<circle cx="367.73" cy="237.6" r="1.1" fill="#151515"/>
<circle cx="370.77" cy="237.6" r="1.1" fill="#151515"/>
<polyline points="338.3,264.9 338.3,259.7 390.15,259.7 390.15,354.5" fill="none" stroke="#454545" stroke-width="1.0"/>
<text x="364" y="254.88" font-size="8" text-anchor="middle" fill="#222" stroke="#222" stroke-width="0.25">ns</text>
<polyline points="338.3,276.9 338.3,271.7 379.78,271.7 379.78,336.5" fill="none" stroke="#454545" stroke-width="1.0"/>
<circle cx="351.23" cy="262.7" r="1.1" fill="#151515"/>
<circle cx="354.28" cy="262.7" r="1.1" fill="#151515"/>
<circle cx="357.33" cy="262.7" r="1.1" fill="#151515"/>
<circle cx="360.38" cy="262.7" r="1.1" fill="#151515"/>
<polyline points="338.3,290 338.3,284.8 369.41,284.8 369.41,349" fill="none" stroke="#454545" stroke-width="1.0"/>
<text x="353.6" y="280.38" font-size="8" text-anchor="middle" fill="#222" stroke="#222" stroke-width="0.25">ns</text>
<polyline points="338.3,301.3 338.3,296.1 359.04,296.1 359.04,356" fill="none" stroke="#454545" stroke-width="1.0"/>
<text x="348.4" y="291.58" font-size="8" text-anchor="middle" fill="#222" stroke="#222" stroke-width="0.25">ns</text>
<polyline points="338.3,354.5 338.3,308.9 348.67,308.9 348.67,358" fill="none" stroke="#454545" stroke-width="1.0"/>
<text x="343.2" y="304.28" font-size="8" text-anchor="middle" fill="#222" stroke="#222" stroke-width="0.25">ns</text>
<text x="458.5" y="338.1" font-size="7.6" text-anchor="middle" fill="#222" >target cells</text>
<line x1="429.6" y1="343.5" x2="487.7" y2="343.5" stroke="#333" stroke-width="1.2"/>
<rect x="431.3" y="348.25" width="5.7" height="5.5" fill="#1d4f8b"/>
<text x="440.8" y="353.7" font-size="7.6" fill="#1a1a1a" style="stroke-width:0.1px">WT</text>
<rect x="431.3" y="362.25" width="5.7" height="5.5" fill="#f6b700"/>
<text x="440.8" y="367.7" font-size="7.6" fill="#1a1a1a" style="stroke-width:0.1px">A2+A3−BC−</text>
<rect x="431.3" y="376.25" width="5.7" height="5.5" fill="#5b216f"/>
<text x="440.8" y="381.7" font-size="7.6" fill="#1a1a1a" style="stroke-width:0.1px">A2−A3+BC−</text>
<rect x="431.3" y="390.25" width="5.7" height="5.5" fill="#9687c4"/>
<text x="440.8" y="395.7" font-size="7.6" fill="#1a1a1a" style="stroke-width:0.1px">A2−A3−BC−</text>
<rect x="431.3" y="404.25" width="5.7" height="5.5" fill="#33a5de"/>
<text x="440.8" y="409.7" font-size="7.6" fill="#1a1a1a" style="stroke-width:0.1px"><tspan font-style="italic">B2M</tspan> KO</text>
<rect x="431.3" y="418.25" width="5.7" height="5.5" fill="#e5067f"/>
<text x="440.8" y="423.7" font-size="7.6" fill="#1a1a1a" style="stroke-width:0.1px">HLA E KI</text>
<rect x="431.3" y="432.25" width="5.7" height="5.5" fill="#f18a00"/>
<text x="440.8" y="437.7" font-size="7.6" fill="#1a1a1a" style="stroke-width:0.1px">K562</text>
<rect x="431.3" y="446.25" width="5.7" height="5.5" fill="#c8032b"/>
<text x="440.8" y="451.7" font-size="7.6" fill="#1a1a1a" style="stroke-width:0.1px">PMA</text>
<rect x="60.2" y="505.02" width="8" height="41.88" fill="#1d4f8b"/>
<line x1="64.2" y1="499.57" x2="64.2" y2="505.02" stroke="#222" stroke-width="0.9"/>
<circle cx="64.2" cy="501.37" r="1.4" fill="#000"/>
<circle cx="61.5" cy="505.52" r="1.4" fill="#000"/>
<circle cx="66.9" cy="505.52" r="1.4" fill="#000"/>
<circle cx="64.2" cy="505.12" r="1.4" fill="#000"/>
<rect x="70.25" y="540.53" width="8" height="6.37" fill="#f4d78e"/>
<circle cx="71.55" cy="541.03" r="1.4" fill="#000"/>
<circle cx="76.95" cy="541.03" r="1.4" fill="#000"/>
<circle cx="74.25" cy="540.63" r="1.4" fill="#000"/>
<rect x="80.3" y="536.28" width="8" height="10.62" fill="#5b216f"/>
<circle cx="81.6" cy="536.78" r="1.4" fill="#000"/>
<circle cx="87" cy="536.78" r="1.4" fill="#000"/>
<circle cx="84.3" cy="536.38" r="1.4" fill="#000"/>
<rect x="90.35" y="543.56" width="8" height="3.34" fill="#9687c4"/>
<circle cx="91.65" cy="544.06" r="1.4" fill="#000"/>
<circle cx="97.05" cy="544.06" r="1.4" fill="#000"/>
<circle cx="94.35" cy="543.66" r="1.4" fill="#000"/>
<rect x="100.4" y="545.38" width="8" height="1.52" fill="#33a5de"/>
<circle cx="101.7" cy="545.88" r="1.4" fill="#000"/>
<circle cx="107.1" cy="545.88" r="1.4" fill="#000"/>
<circle cx="104.4" cy="545.48" r="1.4" fill="#000"/>
<rect x="110.45" y="461.03" width="8" height="28.57" fill="#e5067f"/>
<rect x="110.45" y="498.3" width="8" height="48.6" fill="#e5067f"/>
<circle cx="111.65" cy="461.33" r="1.15" fill="#000"/>
<circle cx="114.45" cy="461.33" r="1.15" fill="#000"/>
<circle cx="117.25" cy="461.33" r="1.15" fill="#000"/>
<text transform="translate(128.6,544.6) rotate(-90)" font-size="7.4" fill="#444">n/a</text>
<text transform="translate(138.65,544.6) rotate(-90)" font-size="7.4" fill="#444">n/a</text>
<line x1="55.2" y1="547.5" x2="55.2" y2="499" stroke="#222" stroke-width="1.2"/>
<line x1="53.6" y1="500" x2="57.1" y2="496.5" stroke="#222" stroke-width="1.0"/>
<line x1="52.4" y1="546.9" x2="55.2" y2="546.9" stroke="#222" stroke-width="1.0"/>
<text x="49.2" y="549.8" font-size="8.1" text-anchor="end" fill="#1a1a1a" >0</text>
<line x1="52.4" y1="516.55" x2="55.2" y2="516.55" stroke="#222" stroke-width="1.0"/>
<text x="49.2" y="519.45" font-size="8.1" text-anchor="end" fill="#1a1a1a" >5</text>
<line x1="52.4" y1="498.34" x2="55.2" y2="498.34" stroke="#222" stroke-width="1.0"/>
<text x="49.2" y="501.24" font-size="8.1" text-anchor="end" fill="#1a1a1a" >8</text>
<line x1="55.2" y1="457.6" x2="55.2" y2="489" stroke="#222" stroke-width="1.2"/>
<line x1="53.6" y1="492.1" x2="57.1" y2="488.6" stroke="#222" stroke-width="1.0"/>
<text x="49.2" y="489.2" font-size="8.1" text-anchor="end" fill="#1a1a1a" >20</text>
<line x1="52.4" y1="472.26" x2="55.2" y2="472.26" stroke="#222" stroke-width="1.0"/>
<text x="49.2" y="475.16" font-size="8.1" text-anchor="end" fill="#1a1a1a" >60</text>
<line x1="52.4" y1="458.22" x2="55.2" y2="458.22" stroke="#222" stroke-width="1.0"/>
<text x="49.2" y="461.12" font-size="8.1" text-anchor="end" fill="#1a1a1a" >100</text>
<line x1="54.6" y1="546.9" x2="143.6" y2="546.9" stroke="#222" stroke-width="1.2"/>
<line x1="99" y1="546.9" x2="99" y2="549.5" stroke="#222" stroke-width="1.0"/>
<text transform="translate(29.6,501.2) rotate(-90)" font-size="9.4" text-anchor="middle" fill="#111" stroke="#111" stroke-width="0.3" textLength="66" lengthAdjust="spacingAndGlyphs">% HLA E of living CD3</text>
<text x="99" y="562.9" font-size="10" text-anchor="middle" fill="#111" stroke="#111" stroke-width="0.35" textLength="22" lengthAdjust="spacingAndGlyphs">Donor 1</text>
<rect x="197.6" y="535.67" width="8" height="11.23" fill="#1d4f8b"/>
<line x1="201.6" y1="530.83" x2="201.6" y2="535.67" stroke="#222" stroke-width="0.9"/>
<circle cx="201.6" cy="532.63" r="1.4" fill="#000"/>
<circle cx="198.9" cy="536.17" r="1.4" fill="#000"/>
<circle cx="204.3" cy="536.17" r="1.4" fill="#000"/>
<circle cx="201.6" cy="535.77" r="1.4" fill="#000"/>
<rect x="207.65" y="542.17" width="8" height="4.73" fill="#f6b700"/>
<circle cx="208.95" cy="542.67" r="1.4" fill="#000"/>
<circle cx="214.35" cy="542.67" r="1.4" fill="#000"/>
<circle cx="211.65" cy="542.27" r="1.4" fill="#000"/>
<rect x="217.7" y="542.35" width="8" height="4.55" fill="#5b216f"/>
<circle cx="219" cy="542.85" r="1.4" fill="#000"/>
<circle cx="224.4" cy="542.85" r="1.4" fill="#000"/>
<circle cx="221.7" cy="542.45" r="1.4" fill="#000"/>
<rect x="227.75" y="542.95" width="8" height="3.95" fill="#9687c4"/>
<circle cx="229.05" cy="543.45" r="1.4" fill="#000"/>
<circle cx="234.45" cy="543.45" r="1.4" fill="#000"/>
<circle cx="231.75" cy="543.05" r="1.4" fill="#000"/>
<rect x="237.8" y="544.59" width="8" height="2.31" fill="#33a5de"/>
<circle cx="239.1" cy="545.09" r="1.4" fill="#000"/>
<circle cx="244.5" cy="545.09" r="1.4" fill="#000"/>
<circle cx="241.8" cy="544.69" r="1.4" fill="#000"/>
<text transform="translate(255.95,544.6) rotate(-90)" font-size="7.4" fill="#444">n/a</text>
<text transform="translate(266,544.6) rotate(-90)" font-size="7.4" fill="#444">n/a</text>
<text transform="translate(276.05,544.6) rotate(-90)" font-size="7.4" fill="#444">n/a</text>
<line x1="192.6" y1="547.5" x2="192.6" y2="499" stroke="#222" stroke-width="1.2"/>
<line x1="191" y1="500" x2="194.5" y2="496.5" stroke="#222" stroke-width="1.0"/>
<line x1="189.8" y1="546.9" x2="192.6" y2="546.9" stroke="#222" stroke-width="1.0"/>
<text x="186.6" y="549.8" font-size="8.1" text-anchor="end" fill="#1a1a1a" >0</text>
<line x1="189.8" y1="516.55" x2="192.6" y2="516.55" stroke="#222" stroke-width="1.0"/>
<text x="186.6" y="519.45" font-size="8.1" text-anchor="end" fill="#1a1a1a" >5</text>
<line x1="189.8" y1="498.34" x2="192.6" y2="498.34" stroke="#222" stroke-width="1.0"/>
<text x="186.6" y="501.24" font-size="8.1" text-anchor="end" fill="#1a1a1a" >8</text>
<line x1="192.6" y1="457.6" x2="192.6" y2="489" stroke="#222" stroke-width="1.2"/>
<line x1="191" y1="492.1" x2="194.5" y2="488.6" stroke="#222" stroke-width="1.0"/>
<text x="186.6" y="489.2" font-size="8.1" text-anchor="end" fill="#1a1a1a" >20</text>
<line x1="189.8" y1="472.26" x2="192.6" y2="472.26" stroke="#222" stroke-width="1.0"/>
<text x="186.6" y="475.16" font-size="8.1" text-anchor="end" fill="#1a1a1a" >60</text>
<line x1="189.8" y1="458.22" x2="192.6" y2="458.22" stroke="#222" stroke-width="1.0"/>
<text x="186.6" y="461.12" font-size="8.1" text-anchor="end" fill="#1a1a1a" >100</text>
<line x1="192" y1="546.9" x2="281" y2="546.9" stroke="#222" stroke-width="1.2"/>
<line x1="236.4" y1="546.9" x2="236.4" y2="549.5" stroke="#222" stroke-width="1.0"/>
<text transform="translate(165.6,501.2) rotate(-90)" font-size="9.4" text-anchor="middle" fill="#111" stroke="#111" stroke-width="0.3" textLength="66" lengthAdjust="spacingAndGlyphs">% HLA E of living CD3</text>
<text x="236.4" y="562.9" font-size="10" text-anchor="middle" fill="#111" stroke="#111" stroke-width="0.35" textLength="22.5" lengthAdjust="spacingAndGlyphs">Donor 8</text>
<rect x="335.6" y="531.12" width="8" height="15.78" fill="#1d4f8b"/>
<circle cx="336.9" cy="531.62" r="1.4" fill="#000"/>
<circle cx="342.3" cy="531.62" r="1.4" fill="#000"/>
<circle cx="339.6" cy="531.22" r="1.4" fill="#000"/>
<rect x="345.65" y="541.32" width="8" height="5.58" fill="#f6b700"/>
<circle cx="346.95" cy="541.82" r="1.4" fill="#000"/>
<circle cx="352.35" cy="541.82" r="1.4" fill="#000"/>
<circle cx="349.65" cy="541.42" r="1.4" fill="#000"/>
<rect x="355.7" y="542.17" width="8" height="4.73" fill="#5b216f"/>
<circle cx="357" cy="542.67" r="1.4" fill="#000"/>
<circle cx="362.4" cy="542.67" r="1.4" fill="#000"/>
<circle cx="359.7" cy="542.27" r="1.4" fill="#000"/>
<rect x="365.75" y="541.44" width="8" height="5.46" fill="#9687c4"/>
<circle cx="367.05" cy="541.94" r="1.4" fill="#000"/>
<circle cx="372.45" cy="541.94" r="1.4" fill="#000"/>
<circle cx="369.75" cy="541.54" r="1.4" fill="#000"/>
<rect x="375.8" y="543.26" width="8" height="3.64" fill="#33a5de"/>
<circle cx="377.1" cy="543.76" r="1.4" fill="#000"/>
<circle cx="382.5" cy="543.76" r="1.4" fill="#000"/>
<circle cx="379.8" cy="543.36" r="1.4" fill="#000"/>
<rect x="385.85" y="462.43" width="8" height="27.17" fill="#e5067f"/>
<rect x="385.85" y="498.3" width="8" height="48.6" fill="#e5067f"/>
<circle cx="387.05" cy="462.73" r="1.15" fill="#000"/>
<circle cx="389.85" cy="462.73" r="1.15" fill="#000"/>
<circle cx="392.65" cy="462.73" r="1.15" fill="#000"/>
<text transform="translate(404,544.6) rotate(-90)" font-size="7.4" fill="#444">n/a</text>
<text transform="translate(414.05,544.6) rotate(-90)" font-size="7.4" fill="#444">n/a</text>
<line x1="330.6" y1="547.5" x2="330.6" y2="499" stroke="#222" stroke-width="1.2"/>
<line x1="329" y1="500" x2="332.5" y2="496.5" stroke="#222" stroke-width="1.0"/>
<line x1="327.8" y1="546.9" x2="330.6" y2="546.9" stroke="#222" stroke-width="1.0"/>
<text x="324.6" y="549.8" font-size="8.1" text-anchor="end" fill="#1a1a1a" >0</text>
<line x1="327.8" y1="516.55" x2="330.6" y2="516.55" stroke="#222" stroke-width="1.0"/>
<text x="324.6" y="519.45" font-size="8.1" text-anchor="end" fill="#1a1a1a" >5</text>
<line x1="327.8" y1="498.34" x2="330.6" y2="498.34" stroke="#222" stroke-width="1.0"/>
<text x="324.6" y="501.24" font-size="8.1" text-anchor="end" fill="#1a1a1a" >8</text>
<line x1="330.6" y1="457.6" x2="330.6" y2="489" stroke="#222" stroke-width="1.2"/>
<line x1="329" y1="492.1" x2="332.5" y2="488.6" stroke="#222" stroke-width="1.0"/>
<text x="324.6" y="489.2" font-size="8.1" text-anchor="end" fill="#1a1a1a" >20</text>
<line x1="327.8" y1="472.26" x2="330.6" y2="472.26" stroke="#222" stroke-width="1.0"/>
<text x="324.6" y="475.16" font-size="8.1" text-anchor="end" fill="#1a1a1a" >60</text>
<line x1="327.8" y1="458.22" x2="330.6" y2="458.22" stroke="#222" stroke-width="1.0"/>
<text x="324.6" y="461.12" font-size="8.1" text-anchor="end" fill="#1a1a1a" >100</text>
<line x1="330" y1="546.9" x2="419" y2="546.9" stroke="#222" stroke-width="1.2"/>
<line x1="374.4" y1="546.9" x2="374.4" y2="549.5" stroke="#222" stroke-width="1.0"/>
<text transform="translate(303.6,501.2) rotate(-90)" font-size="9.4" text-anchor="middle" fill="#111" stroke="#111" stroke-width="0.3" textLength="66" lengthAdjust="spacingAndGlyphs">% HLA E of living CD3</text>
<text x="374.4" y="562.9" font-size="10" text-anchor="middle" fill="#111" stroke="#111" stroke-width="0.35" textLength="27" lengthAdjust="spacingAndGlyphs">Donor 10</text>
<polyline points="63.9,495.8 63.9,433.1 102.3,433.1 102.3,438.7" fill="none" stroke="#454545" stroke-width="1.0"/>
<circle cx="75.22" cy="425.2" r="1.1" fill="#151515"/>
<circle cx="78.27" cy="425.2" r="1.1" fill="#151515"/>
<circle cx="81.32" cy="425.2" r="1.1" fill="#151515"/>
<circle cx="84.38" cy="425.2" r="1.1" fill="#151515"/>
<polyline points="105.8,503.3 105.8,451.5 114.5,451.5 114.5,455.8" fill="none" stroke="#454545" stroke-width="1.0"/>
<circle cx="105.52" cy="443.2" r="1.1" fill="#151515"/>
<circle cx="108.57" cy="443.2" r="1.1" fill="#151515"/>
<circle cx="111.62" cy="443.2" r="1.1" fill="#151515"/>
<circle cx="114.67" cy="443.2" r="1.1" fill="#151515"/>
<polyline points="74,534.7 74,457.9 102.3,457.9 102.3,470.6" fill="none" stroke="#454545" stroke-width="1.0"/>
<circle cx="88.5" cy="449.5" r="1.1" fill="#151515"/>
<polyline points="84.5,530.4 84.5,483.6 102.5,483.6 102.5,503.3" fill="none" stroke="#454545" stroke-width="1.0"/>
<circle cx="90.25" cy="475.4" r="1.1" fill="#151515"/>
<circle cx="93.3" cy="475.4" r="1.1" fill="#151515"/>
<circle cx="96.35" cy="475.4" r="1.1" fill="#151515"/>
<polyline points="94.1,537.7 94.1,518 104.1,518 104.1,540" fill="none" stroke="#454545" stroke-width="1.0"/>
<text x="99.1" y="513.28" font-size="8" text-anchor="middle" fill="#222" stroke="#222" stroke-width="0.25">ns</text>
<polyline points="201.8,527.7 201.8,463.8 242.3,463.8 242.3,477.7" fill="none" stroke="#454545" stroke-width="1.0"/>
<circle cx="217.23" cy="456.2" r="1.1" fill="#151515"/>
<circle cx="220.28" cy="456.2" r="1.1" fill="#151515"/>
<circle cx="223.33" cy="456.2" r="1.1" fill="#151515"/>
<circle cx="226.38" cy="456.2" r="1.1" fill="#151515"/>
<polyline points="211.8,536 211.8,483.4 242.3,483.4 242.3,497" fill="none" stroke="#454545" stroke-width="1.0"/>
<text x="226.9" y="478.98" font-size="8" text-anchor="middle" fill="#222" stroke="#222" stroke-width="0.25">ns</text>
<polyline points="221.8,537 221.8,503.1 242.3,503.1 242.3,507.7" fill="none" stroke="#454545" stroke-width="1.0"/>
<text x="232" y="498.28" font-size="8" text-anchor="middle" fill="#222" stroke="#222" stroke-width="0.25">ns</text>
<polyline points="231.5,536.7 231.5,522.3 242.3,522.3 242.3,543" fill="none" stroke="#454545" stroke-width="1.0"/>
<text x="236.9" y="517.48" font-size="8" text-anchor="middle" fill="#222" stroke="#222" stroke-width="0.25">ns</text>
<polyline points="339.3,527 339.3,433.2 378.2,433.2 378.2,438.1" fill="none" stroke="#454545" stroke-width="1.0"/>
<circle cx="354.23" cy="425" r="1.1" fill="#151515"/>
<circle cx="357.28" cy="425" r="1.1" fill="#151515"/>
<circle cx="360.33" cy="425" r="1.1" fill="#151515"/>
<circle cx="363.38" cy="425" r="1.1" fill="#151515"/>
<polyline points="381.3,500.6 381.3,451.2 390,451.2 390,458.1" fill="none" stroke="#454545" stroke-width="1.0"/>
<circle cx="381.23" cy="443" r="1.1" fill="#151515"/>
<circle cx="384.28" cy="443" r="1.1" fill="#151515"/>
<circle cx="387.33" cy="443" r="1.1" fill="#151515"/>
<circle cx="390.38" cy="443" r="1.1" fill="#151515"/>
<polyline points="349.5,537 349.5,463.5 378.2,463.5 378.2,468.8" fill="none" stroke="#454545" stroke-width="1.0"/>
<circle cx="362.28" cy="455" r="1.1" fill="#151515"/>
<circle cx="365.33" cy="455" r="1.1" fill="#151515"/>
<polyline points="359.7,538 359.7,483.5 377.2,483.5 377.2,500.6" fill="none" stroke="#454545" stroke-width="1.0"/>
<text x="368.5" y="478.58" font-size="8" text-anchor="middle" fill="#222" stroke="#222" stroke-width="0.25">ns</text>
<polyline points="369.6,536 369.6,514.6 379.6,514.6 379.6,539.6" fill="none" stroke="#454545" stroke-width="1.0"/>
<text x="374.4" y="510.38" font-size="8" text-anchor="middle" fill="#222" stroke="#222" stroke-width="0.25">ns</text>
<rect x="0.5" y="0.5" width="519" height="570" fill="none" stroke="#555" stroke-width="1"/>
</svg>
</body></html>
